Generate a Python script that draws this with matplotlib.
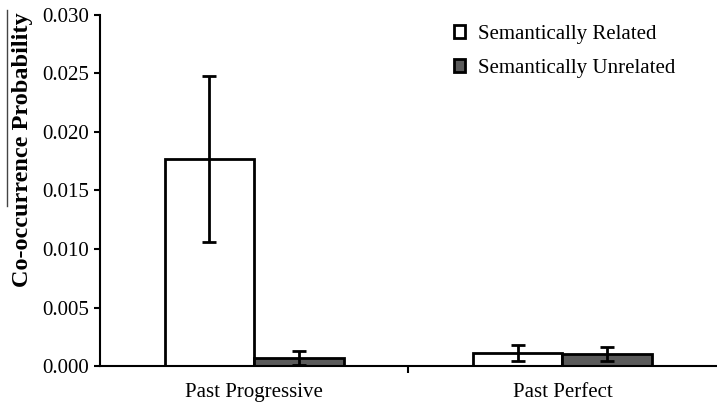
import numpy as np
import matplotlib.pyplot as plt
from matplotlib.lines import Line2D

categories = ['Past Progressive', 'Past Perfect']
related = [0.0177, 0.0011]
related_err = [0.0071, 0.0007]
unrelated = [0.0007, 0.0010]
unrelated_err = [0.0006, 0.0006]
yticks = [0.000, 0.005, 0.010, 0.015, 0.020, 0.025, 0.030]

plt.rcParams['font.family'] = 'Liberation Serif'

fig = plt.figure(figsize=(7.17, 4.04), dpi=100)
ax = fig.add_axes([0.1395, 0.094, 0.86, 0.869])

x = np.arange(len(categories))
w = 0.29
err_kw = dict(ecolor='black', elinewidth=2, capsize=5, capthick=2)
ax.bar(x - w / 2, related, w, yerr=related_err, color='white', edgecolor='black',
       linewidth=2, error_kw=err_kw, label='Semantically Related')
ax.bar(x + w / 2, unrelated, w, yerr=unrelated_err, color='#5a5a5a', edgecolor='black',
       linewidth=2, error_kw=err_kw, label='Semantically Unrelated')

ax.set_xlim(-0.5, 1.5)
ax.set_ylim(0, 0.030)
ax.set_yticks(yticks)
ax.set_yticklabels(['%.3f' % v for v in yticks], fontsize=15)
ax.set_xticks(x)
ax.set_xticklabels(categories, fontsize=15)
ax.tick_params(axis='x', length=0, pad=12)
ax.set_xticks([0.5], minor=True)
ax.tick_params(axis='x', which='minor', length=5, width=1.5, direction='out')
ax.tick_params(axis='y', length=4, width=1.5, direction='out', pad=4)

for s in ['top', 'right']:
    ax.spines[s].set_visible(False)
ax.spines['left'].set_linewidth(1.5)
ax.spines['bottom'].set_linewidth(1.5)

fig.text(0.032, 0.63, 'Co-occurrence Probability', rotation=90, ha='center', va='center',
         fontsize=17.5, fontweight='bold')
fig.add_artist(Line2D([0.01, 0.01], [0.49, 0.975], color='#444444', linewidth=1))

fig.legend(*ax.get_legend_handles_labels(), loc='upper left', bbox_to_anchor=(0.633, 0.938),
           frameon=False, fontsize=15, borderpad=0, borderaxespad=0,
           handlelength=0.55, handleheight=0.55, labelspacing=0.7, handletextpad=0.6)

fig.savefig('out.png', dpi=100)
